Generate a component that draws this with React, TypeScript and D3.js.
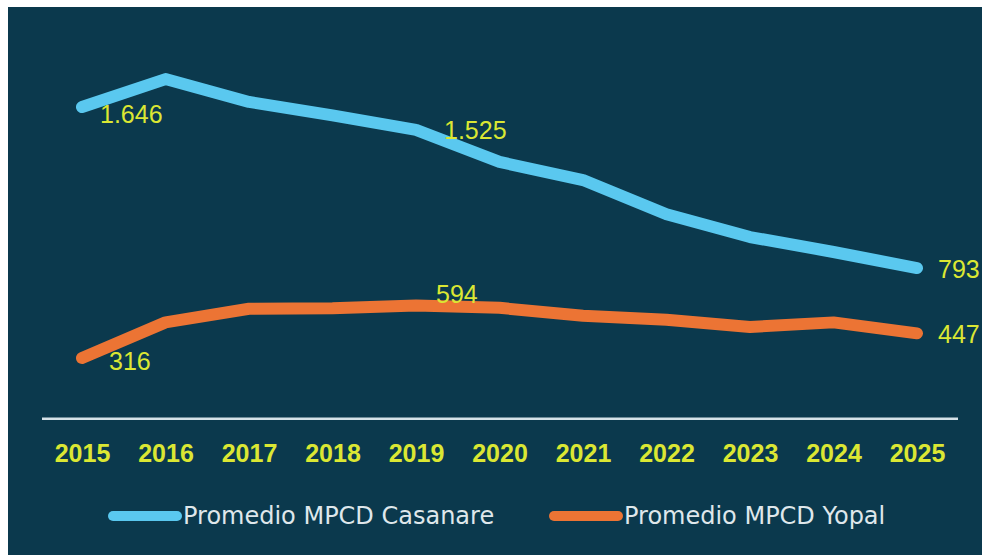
import React, { useEffect, useRef } from "react";
import * as d3 from "d3";

const years = ["2015", "2016", "2017", "2018", "2019", "2020", "2021", "2022", "2023", "2024", "2025"];
const casanare = [1646, 1794, 1673, 1602, 1525, 1355, 1259, 1078, 957, 878, 793];
const yopal = [316, 505, 577, 580, 594, 582, 540, 519, 481, 505, 447];
const seriesNames = ["Promedio MPCD Casanare", "Promedio MPCD Yopal"];
// labelled points: [series index, year index, text]
const labelSeries = [0, 0, 0, 1, 1, 1];
const labelYearIdx = [0, 4, 10, 0, 4, 10];
const labelTexts = ["1.646", "1.525", "793", "316", "594", "447"];

const W = 982;
const H = 555;
const BG = "#0b394d";
const BLUE = "#5ac8ef";
const ORANGE = "#ec7434";
const YELLOW = "#dbe733";
const NUMFONT = "'Liberation Sans', Arial, sans-serif";
const LEGFONT = "'DejaVu Sans', 'Liberation Sans', sans-serif";

// label offsets (style, relative to point)
const labelDx = [18, 28, 21, 27, 20, 21];
const labelDy = [16, 9, 10, 12, -3, 10];

export default function App() {
  const ref = useRef<SVGSVGElement | null>(null);

  useEffect(() => {
    const svg = d3.select(ref.current);
    svg.selectAll("*").remove();

    svg.append("rect").attr("x", 0).attr("y", 0).attr("width", W).attr("height", H).attr("fill", "#ffffff");
    svg.append("rect").attr("x", 8).attr("y", 7).attr("width", W - 8).attr("height", H - 7).attr("fill", BG);

    const x = d3.scalePoint<string>().domain(years).range([82, 917]);
    const y = d3.scaleLinear().domain([0, 1800]).range([417.7, 77.95]);

    // baseline axis
    svg.append("line")
      .attr("x1", 42).attr("x2", 958)
      .attr("y1", y(0) + 1).attr("y2", y(0) + 1)
      .attr("stroke", "#d6e2e8").attr("stroke-width", 2.5);

    // x tick labels
    const xAxis = d3.axisBottom(x).tickSize(0).tickPadding(0);
    const gx = svg.append("g").attr("transform", `translate(0, ${y(0)})`).call(xAxis);
    gx.select(".domain").remove();
    gx.selectAll("text")
      .attr("y", 44)
      .attr("dy", 0)
      .attr("fill", YELLOW)
      .attr("font-family", NUMFONT)
      .attr("font-size", 25)
      .attr("font-weight", "bold");

    const allSeries = [casanare, yopal];
    const colors = [BLUE, ORANGE];

    const line = d3.line<number>()
      .x((_, i) => x(years[i]) as number)
      .y((d) => y(d));

    allSeries.forEach((s, k) => {
      svg.append("path")
        .attr("d", line(s) as string)
        .attr("fill", "none")
        .attr("stroke", colors[k])
        .attr("stroke-width", 12)
        .attr("stroke-linecap", "round")
        .attr("stroke-linejoin", "round");
    });

    // data labels
    labelTexts.forEach((t, i) => {
      const s = allSeries[labelSeries[i]];
      const yi = labelYearIdx[i];
      svg.append("text")
        .attr("x", (x(years[yi]) as number) + labelDx[i])
        .attr("y", y(s[yi]) + labelDy[i])
        .attr("fill", YELLOW)
        .attr("font-family", NUMFONT)
        .attr("font-size", 25)
        .text(t);
    });

    // legend
    const legendX = [113, 554];
    seriesNames.forEach((name, k) => {
      const g = svg.append("g").attr("transform", `translate(${legendX[k]}, 516)`);
      g.append("line")
        .attr("x1", 0).attr("x2", 64)
        .attr("y1", 0).attr("y2", 0)
        .attr("stroke", colors[k])
        .attr("stroke-width", 10)
        .attr("stroke-linecap", "round");
      g.append("text")
        .attr("x", 70)
        .attr("y", 8)
        .attr("fill", "#dfe7eb")
        .attr("font-family", LEGFONT)
        .attr("font-size", 24)
        .text(name);
    });
  }, []);

  return (
    <svg
      ref={ref}
      width={W}
      height={H}
      style={{ position: "fixed", left: 0, top: 0, display: "block" }}
    />
  );
}
